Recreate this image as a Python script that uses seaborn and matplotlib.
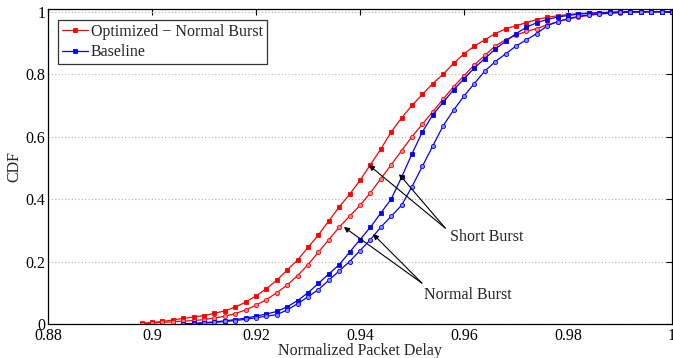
import numpy as np
import pandas as pd
import matplotlib
matplotlib.use("Agg")
import matplotlib.pyplot as plt
import seaborn as sb

###################################################################################
# data (CDF of normalized packet delay)
###################################################################################
delay = [0.896, 0.898, 0.900, 0.902, 0.904, 0.906, 0.908, 0.910, 0.912, 0.914,
         0.916, 0.918, 0.920, 0.922, 0.924, 0.926, 0.928, 0.930, 0.932, 0.934,
         0.936, 0.938, 0.940, 0.942, 0.944, 0.946, 0.948, 0.950, 0.952, 0.954,
         0.956, 0.958, 0.960, 0.962, 0.964, 0.966, 0.968, 0.970, 0.972, 0.974,
         0.976, 0.978, 0.980, 0.982, 0.984, 0.986, 0.988, 0.990, 0.992, 0.994,
         0.996, 0.998, 1.000]

nan = np.nan
# optimized, short burst (left red, squares)
cdf_opt_short = [nan, 0.002, 0.005, 0.008, 0.013, 0.018, 0.022, 0.027, 0.034, 0.042,
                 0.054, 0.070, 0.090, 0.113, 0.140, 0.173, 0.205, 0.245, 0.285, 0.330,
                 0.375, 0.415, 0.460, 0.510, 0.560, 0.615, 0.660, 0.700, 0.735, 0.770,
                 0.800, 0.835, 0.865, 0.890, 0.910, 0.930, 0.945, 0.955, 0.965, 0.975,
                 0.982, 0.987, 0.991, 0.994, 0.996, 0.997, 0.998, 0.999, 0.999, 1.000,
                 1.000, 1.000, 1.000]
# optimized, normal burst (right red, circles)
cdf_opt_normal = [nan, 0.001, 0.003, 0.005, 0.007, 0.009, 0.011, 0.014, 0.019, 0.025,
                  0.033, 0.045, 0.060, 0.078, 0.100, 0.125, 0.155, 0.190, 0.230, 0.270,
                  0.310, 0.345, 0.380, 0.420, 0.465, 0.510, 0.555, 0.600, 0.640, 0.680,
                  0.720, 0.760, 0.795, 0.830, 0.860, 0.890, 0.910, 0.925, 0.937, 0.946,
                  0.958, 0.968, 0.976, 0.983, 0.988, 0.992, 0.995, 0.997, 0.998, 0.999,
                  1.000, 1.000, 1.000]
# baseline, short burst (left blue, squares)
cdf_base_short = [nan, nan, nan, nan, nan, 0.000, 0.002, 0.004, 0.007, 0.010,
                  0.014, 0.019, 0.025, 0.032, 0.040, 0.055, 0.075, 0.100, 0.130, 0.160,
                  0.190, 0.230, 0.270, 0.310, 0.355, 0.400, 0.470, 0.545, 0.615, 0.670,
                  0.710, 0.750, 0.785, 0.820, 0.850, 0.880, 0.905, 0.930, 0.950, 0.965,
                  0.975, 0.983, 0.988, 0.992, 0.995, 0.997, 0.998, 0.999, 1.000, 1.000,
                  1.000, 1.000, 1.000]
# baseline, normal burst (right blue, circles)
cdf_base_normal = [nan, nan, nan, nan, nan, 0.000, 0.001, 0.003, 0.005, 0.008,
                   0.011, 0.015, 0.020, 0.025, 0.030, 0.045, 0.065, 0.087, 0.110, 0.140,
                   0.170, 0.200, 0.235, 0.270, 0.310, 0.345, 0.380, 0.440, 0.505, 0.570,
                   0.635, 0.685, 0.730, 0.770, 0.810, 0.840, 0.865, 0.890, 0.910, 0.930,
                   0.955, 0.968, 0.978, 0.985, 0.990, 0.994, 0.996, 0.998, 0.999, 1.000,
                   1.000, 1.000, 1.000]

x_ticks = [0.88, 0.9, 0.92, 0.94, 0.96, 0.98, 1.0]
x_tick_labels = ["0.88", "0.9", "0.92", "0.94", "0.96", "0.98", "1"]
y_ticks = [0, 0.2, 0.4, 0.6, 0.8, 1.0]
y_tick_labels = ["0", "0.2", "0.4", "0.6", "0.8", "1"]

###################################################################################
# plot
###################################################################################
sb.set_style("white")
plt.rcParams['font.family'] = ['Liberation Serif', 'DejaVu Serif']

df = pd.DataFrame({'delay': delay,
                   'opt_short': cdf_opt_short,
                   'opt_normal': cdf_opt_normal,
                   'base_short': cdf_base_short,
                   'base_normal': cdf_base_normal})

fig = plt.figure(figsize=(6.73, 3.58), dpi=100)
ax = fig.add_axes([0.0713, 0.095, 0.9272, 0.881])

red = '#ff0000'
blue = '#0000ff'
fs = 11.5
line_kw = dict(linewidth=0.9, markersize=3.0, markeredgewidth=0.6)

sb.lineplot(data=df, x='delay', y='opt_short', ax=ax, color=red, marker='s',
            markerfacecolor=red, markeredgecolor=red, label='Optimized \u2212 Normal Burst', **line_kw)
sb.lineplot(data=df, x='delay', y='opt_normal', ax=ax, color=red, marker='o',
            markerfacecolor='#ff8c8c', markeredgecolor=red, label='_nolegend_', **line_kw)
sb.lineplot(data=df, x='delay', y='base_short', ax=ax, color=blue, marker='s',
            markerfacecolor=blue, markeredgecolor=blue, label='Baseline', **line_kw)
sb.lineplot(data=df, x='delay', y='base_normal', ax=ax, color=blue, marker='o',
            markerfacecolor='#8c8cff', markeredgecolor=blue, label='_nolegend_', **line_kw)

ax.set_xlim(0.88, 1.0)
ax.set_ylim(0, 1.01)
ax.set_xticks(x_ticks)
ax.set_xticklabels(x_tick_labels)
ax.set_yticks(y_ticks)
ax.set_yticklabels(y_tick_labels)
ax.tick_params(direction='in', length=4, width=0.8, top=True, right=True,
               labelsize=fs, pad=2, colors='k')
ax.tick_params(axis='x', pad=3)
ax.yaxis.grid(True, linestyle=(0, (1, 2)), color='#b0b0b0', linewidth=0.8)
ax.xaxis.grid(False)
for s in ax.spines.values():
    s.set_color('k')
    s.set_linewidth(0.9)

ax.set_xlabel('Normalized Packet Delay', fontsize=fs, labelpad=-1)
ax.set_ylabel('CDF', fontsize=fs, labelpad=2)

leg = ax.legend(loc='upper left', bbox_to_anchor=(0.016, 0.965), fontsize=fs,
                frameon=True, fancybox=False, edgecolor='k', handlelength=1.6,
                handletextpad=0.2, borderpad=0.25, labelspacing=0.3, borderaxespad=0)
leg.get_frame().set_linewidth(0.9)

# annotations
arrow_kw = dict(arrowstyle='-|>', color='k', lw=0.8, shrinkA=0, shrinkB=0, mutation_scale=8)
for tip in [(0.9417, 0.509), (0.9475, 0.480)]:
    ax.annotate('', xy=tip, xytext=(0.9564, 0.307), arrowprops=arrow_kw)
for tip in [(0.9369, 0.3105), (0.9425, 0.288)]:
    ax.annotate('', xy=tip, xytext=(0.9519, 0.131), arrowprops=arrow_kw)
ax.text(0.9573, 0.278, 'Short Burst', fontsize=fs, va='center', ha='left')
ax.text(0.9523, 0.093, 'Normal Burst', fontsize=fs, va='center', ha='left')

plt.savefig('out.png', dpi=100)
